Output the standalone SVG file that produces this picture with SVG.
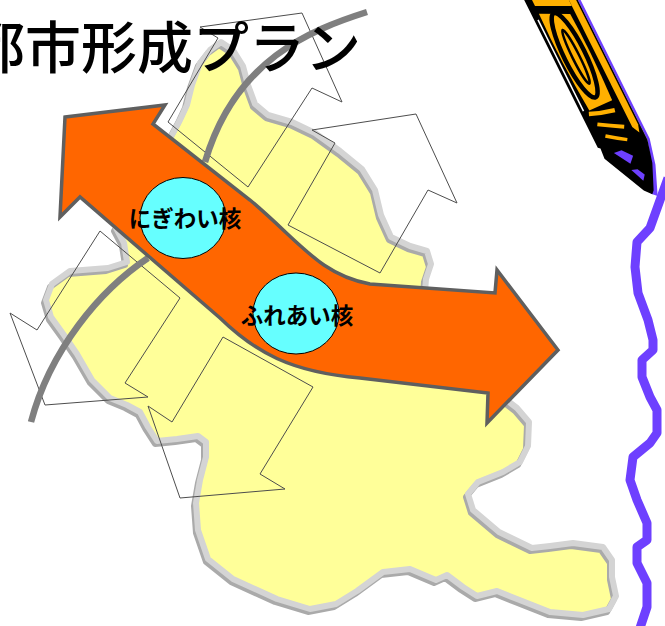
<svg xmlns="http://www.w3.org/2000/svg" width="665" height="626" viewBox="0 0 665 626">
<style>
.out{fill:none;stroke:#4d4d4d;stroke-width:1}
.road{fill:none;stroke:#7f7f7f;stroke-width:6.5}
.core{fill:#66ffff;stroke:#000;stroke-width:1}
.lbl{font-family:"Noto Sans CJK JP","Noto Sans CJK SC",sans-serif;font-weight:bold;font-size:22.5px;text-anchor:middle;fill:#000}
.title{font-family:"Noto Sans CJK JP","Noto Sans CJK SC",sans-serif;font-weight:500;font-size:56px;fill:#000}
.lead{fill:#6e40ff}
.wood{fill:#ffb000}
</style>
<defs>
<path id="land" d="M221,42 L233,50 L243,66 L248,85 L255,104 L268,115 L292,122 L315,133 L340,151 L362,169 L375,190 L381,215 L391,237 L410,246 L427,251 L431,264 L426,279 L425,292 L470,330 L500,395 L517,408 L529,422 L528,446 L520,462 L503,472 L478,482 L468,494 L473,510 L499,532 L532,548 L550,546 L573,543 L603,547 L612,560 L612,577 L616,596 L609,609 L583,615 L550,612 L517,599 L497,591 L477,596 L463,587 L447,575 L436,580 L410,569 L383,572 L357,591 L336,604 L310,609 L277,599 L233,579 L208,559 L198,530 L196,503 L200,480 L206,457 L206,442 L198,436 L177,439 L157,441 L148,427 L140,412 L127,405 L110,398 L92,380 L77,354 L64,335 L51,317 L46,300 L52,284 L70,271 L108,268 L127,262 L124,243 L116,228 L140,190 L173,133 L180,120 L187,105 L192,85 L200,63 L210,50 Z"/>
</defs>
<rect width="665" height="626" fill="#fff"/>

<!-- city area -->
<g id="area" stroke-linejoin="round">
<use href="#land" fill="#ffff99" stroke="none"/>
<use href="#land" fill="none" stroke="#aaaaaa" stroke-width="6" transform="translate(-2,3)"/>
<use href="#land" fill="none" stroke="#d4d4d4" stroke-width="6"/>
</g>

<!-- outward development directions -->
<g id="directions">
<polygon id="dir-north" class="out" points="168,122 248,187 312,88 342,102 302,13 200,27 218,38"/>
<polygon id="dir-east" class="out" points="312,130 416,114 457,203 428,190 380,273 288,225 335,143"/>
<polygon id="dir-west" class="out" points="100,231 180,298 125,383 148,397 45,405 10,313 37,330"/>
<polygon id="dir-south" class="out" points="148,406 172,422 223,337 313,387 260,474 285,489 180,498"/>
</g>

<!-- ring roads -->
<g id="roads">
<path class="road" d="M367,12 C310,30 235,60 205,162"/>
<path class="road" d="M148,258 C100,290 50,350 31,422"/>
</g>

<!-- main axis -->
<g id="axis">
<path d="M65,117 L165,105 L153,124 L250,200 C300,242 320,275 370,284 L495,293 L497,270 L558,350 L487,423 L488,393 L360,378 C290,372 255,352 220,318 L80,197 L60,217 Z" fill="#ff6600" stroke="#5f5f5f" stroke-width="3.5" stroke-linejoin="miter"/>
</g>

<g id="core-nigiwai">
<ellipse class="core" cx="183" cy="218" rx="43" ry="40.5"/>
<text class="lbl" x="185" y="227">にぎわい核</text>
</g>
<g id="core-fureai">
<ellipse class="core" cx="296" cy="313.5" rx="43" ry="40.5"/>
<text class="lbl" x="297" y="324">ふれあい核</text>
</g>

<g id="title">
<text class="title" x="-31" y="68">都市形成プラン</text>
</g>

<!-- pen, drawn along its own axis -->
<g id="pen" transform="translate(551,0) rotate(63.5)">
<path class="lead" d="M-40,-26.5 L168,-26.5 L194,-20 L223,-8 L218,-3 L190,-17 L168,-24 L-40,-24 Z"/>
<polygon points="-40,-24 168,-24 191,-18 216,-7 219,-4 212,2 166,23 155,22 153,24 -40,24" fill="#000"/>
<polygon class="wood" points="-40,-22.5 150,-22.5 158,-20 150,-16 -40,-16"/>
<polygon class="wood" points="-8.5,17 -1.8,17 14.6,-16 8,-16"/>
<path class="wood" d="M7,17 L21,-11 Q64,-13 117,-10 L116,15 Q62,19 7,17 Z"/>
<ellipse cx="60" cy="3.5" rx="47" ry="10.5" fill="none" stroke="#000" stroke-width="4.5"/>
<ellipse cx="62" cy="3" rx="30" ry="3.5" fill="none" stroke="#000" stroke-width="2.5"/>
<line x1="12" y1="20.5" x2="114" y2="20.5" stroke="#fff" stroke-width="1.5"/>
<g fill="none" stroke="#ffb000">
<path d="M119,17 Q124,5 127,-8" stroke-width="4.5"/>
<path d="M132,14 Q139,3 146,-9" stroke-width="4"/>
<path d="M146,12 Q153,3 159,-6" stroke-width="3.5"/>
</g>
<polygon class="lead" points="165,12 182,2 176,-4 166,4"/>
<polygon class="lead" points="188,4 203,-2 198,-6 190,-2"/>
</g>

<!-- river -->
<g id="river">
<polyline points="668,178 650,228 637,242 635,267 638,293 648,320 653,340 653,350 642,360 642,377 650,397 657,410 657,433 650,443 633,457 630,480 637,500 647,523 647,540 637,547 637,563 647,583 647,607 640,628" fill="none" stroke="#6e40ff" stroke-width="9" stroke-linejoin="round"/>
</g>
</svg>
